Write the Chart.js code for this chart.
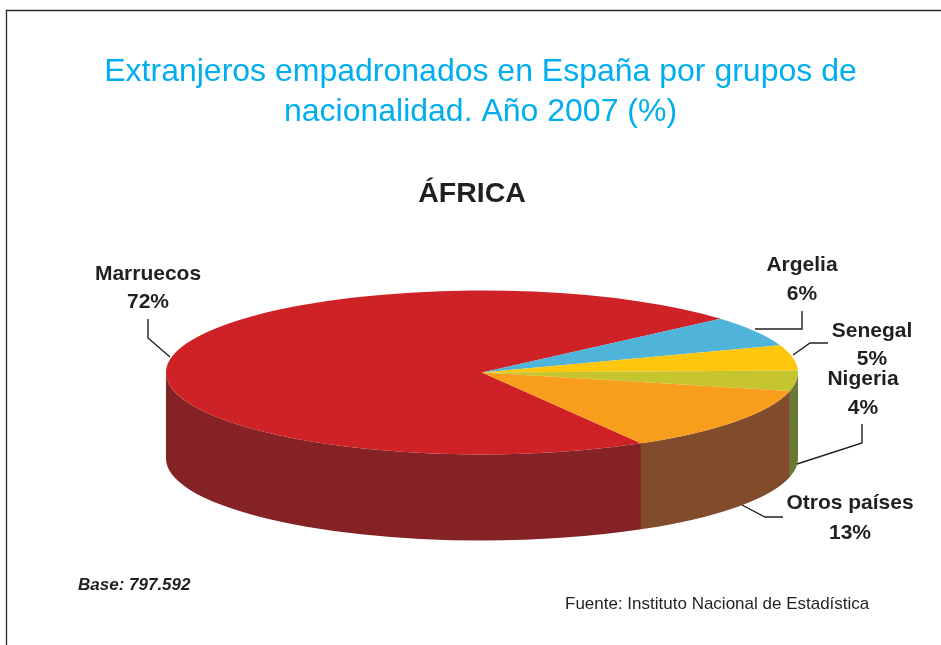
<!DOCTYPE html>
<html lang="es">
<head>
<meta charset="utf-8">
<title>Extranjeros empadronados en España</title>
<style>
html,body{margin:0;padding:0;background:#fff}
#wrap{position:absolute;left:0;top:0;width:941px;height:645px}
</style>
<script src="https://cdn.jsdelivr.net/npm/chart.js@4"></script>
</head>
<body>
<div id="wrap"><canvas id="c" width="941" height="645"></canvas></div>
<script>
const titleLines = ['Extranjeros empadronados en España por grupos de', 'nacionalidad. Año 2007 (%)'];
const subtitleText = 'ÁFRICA';
const categories = ['Marruecos', 'Argelia', 'Senegal', 'Nigeria', 'Otros países'];
const shares = [72, 6, 5, 4, 13];
const topColors = ['#CF2227', '#4FB3DA', '#FFC60B', '#C5C62F', '#F99D1C'];
const wallColors = ['#842226', '#3A7F9C', '#B98F10', '#667A36', '#814C2B'];
const baseNote = 'Base: 797.592';
const sourceNote = 'Fuente: Instituto Nacional de Estadística';

// Label placement: [centre x, first baseline, second baseline]
const labelSpots = [[148, 280, 308], [802, 271, 300], [872, 337, 365], [863, 385, 414], [850, 509, 539]];
// Leader lines, one per category
const leaders = [
  [[148, 319], [148, 338], [170, 357]],
  [[755, 329], [802, 329], [802, 311]],
  [[793, 355], [810, 343], [828, 343]],
  [[797, 464], [862, 443], [862, 424]],
  [[742, 505], [765, 517], [783, 517]]
];

const RX = 316, RY = 82, DEPTH = 86, X_SHIFT = 1.5;
const INK = '#231F20';

const pie3d = {
  id: 'pie3d',
  beforeDraw(chart) {
    const ctx = chart.ctx;
    ctx.save();
    ctx.strokeStyle = '#2b2b2b';
    ctx.lineWidth = 1.3;
    ctx.beginPath();
    ctx.moveTo(6.5, 645);
    ctx.lineTo(6.5, 10.5);
    ctx.lineTo(941, 10.5);
    ctx.stroke();
    ctx.restore();
  },
  beforeDatasetsDraw(chart) {
    const ctx = chart.ctx;
    const arcs = chart.getDatasetMeta(0).data;
    const cx = arcs[0].x + X_SHIFT, cy = arcs[0].y, R = arcs[0].outerRadius;
    const TAU = Math.PI * 2;
    // Walls: the front half of each slice's rim, extruded downward
    arcs.forEach((arc, i) => {
      for (let k = -1; k <= 2; k++) {
        const a0 = Math.max(arc.startAngle, k * TAU);
        const a1 = Math.min(arc.endAngle, k * TAU + Math.PI);
        if (a1 <= a0) continue;
        ctx.beginPath();
        ctx.ellipse(cx, cy, RX, RY, 0, a0, a1);
        ctx.ellipse(cx, cy + DEPTH, RX, RY, 0, a1, a0, true);
        ctx.closePath();
        ctx.fillStyle = wallColors[i];
        ctx.fill();
      }
    });
    // Top face: the library's own arcs, flattened into an ellipse
    ctx.save();
    ctx.translate(cx, cy);
    ctx.scale(RX / R, RY / R);
    ctx.translate(-arcs[0].x, -arcs[0].y);
    arcs.forEach(arc => arc.draw(ctx));
    ctx.restore();
    return false;
  },
  afterDraw(chart) {
    const ctx = chart.ctx;
    ctx.save();
    ctx.strokeStyle = INK;
    ctx.lineWidth = 1.4;
    leaders.forEach(pts => {
      ctx.beginPath();
      pts.forEach((p, j) => j ? ctx.lineTo(p[0], p[1]) : ctx.moveTo(p[0], p[1]));
      ctx.stroke();
    });
    ctx.fillStyle = INK;
    ctx.textAlign = 'center';
    ctx.textBaseline = 'alphabetic';
    ctx.font = 'bold 21px "Liberation Sans"';
    categories.forEach((name, i) => {
      const s = labelSpots[i];
      ctx.fillText(name, s[0], s[1]);
      ctx.fillText(shares[i] + '%', s[0], s[2]);
    });
    ctx.font = 'bold 28.5px "Liberation Sans"';
    ctx.fillText(subtitleText, 472, 202);
    ctx.textAlign = 'left';
    ctx.font = 'italic bold 17px "Liberation Sans"';
    ctx.fillText(baseNote, 78, 590);
    ctx.font = '17px "Liberation Sans"';
    ctx.fillText(sourceNote, 565, 609);
    ctx.restore();
  }
};

new Chart(document.getElementById('c'), {
  type: 'pie',
  data: {
    labels: categories,
    datasets: [{ data: shares, backgroundColor: topColors, borderWidth: 0, hoverOffset: 0 }]
  },
  options: {
    responsive: false,
    animation: false,
    rotation: 149.8,
    layout: { padding: { left: 20, right: 0, top: 0, bottom: 117 } },
    events: [],
    plugins: {
      legend: { display: false },
      tooltip: { enabled: false },
      title: {
        display: true,
        text: titleLines,
        color: '#00AEEF',
        font: { family: '"Liberation Sans"', size: 32, weight: 'normal', lineHeight: 1.25 },
        padding: { top: 52, bottom: 85 }
      }
    }
  },
  plugins: [pie3d]
});
</script>
</body>
</html>
